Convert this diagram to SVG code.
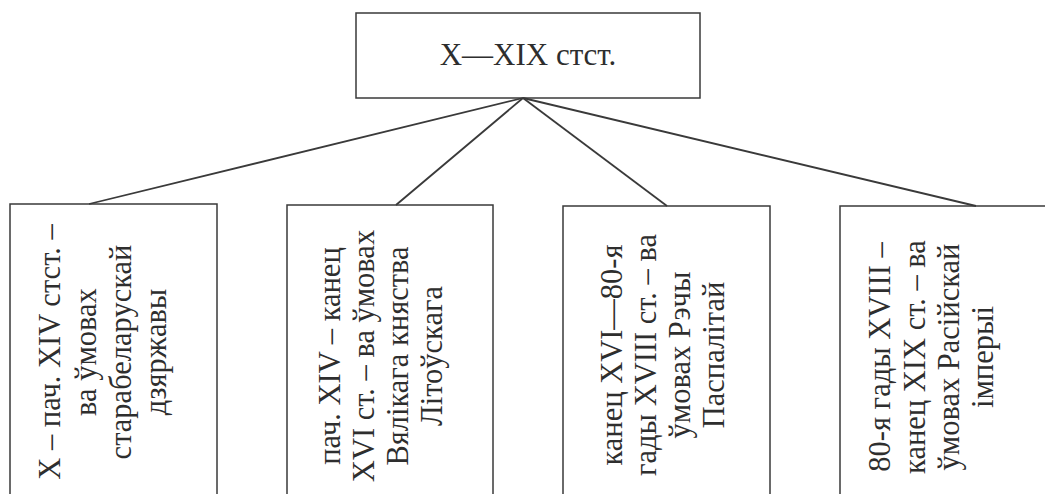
<svg xmlns="http://www.w3.org/2000/svg" width="1045" height="494" viewBox="0 0 1045 494">
<style>
.box{fill:none;stroke:#3a3a3a;stroke-width:1.5}
.edge{fill:none;stroke:#3a3a3a;stroke-width:1.8}
text{font-family:"Liberation Serif","Times New Roman",serif;fill:#2e2e2e;text-anchor:middle}
.t{font-size:31px}
.v{font-size:30.5px}
</style>
<rect width="1045" height="494" fill="#ffffff"/>
<g id="connectors">
<line class="edge" x1="523" y1="98" x2="89" y2="204"/>
<line class="edge" x1="523" y1="98" x2="396" y2="205"/>
<line class="edge" x1="523" y1="98" x2="667" y2="206"/>
<line class="edge" x1="523" y1="98" x2="976" y2="206"/>
</g>
<g id="root">
<rect class="box" x="356" y="13" width="344" height="85"/>
<text class="t" x="528" y="65">X—XIX стст.</text>
</g>
<g id="n1">
<rect class="box" x="10" y="204" width="207" height="300"/>
<g transform="translate(0,352) rotate(-90)">
<text class="v" x="0" y="60">X – пач. XIV стст. –</text>
<text class="v" x="0" y="96">ва ўмовах</text>
<text class="v" x="0" y="131">старабеларускай</text>
<text class="v" x="0" y="166">дзяржавы</text>
</g>
</g>
<g id="n2">
<rect class="box" x="287" y="205" width="206" height="300"/>
<g transform="translate(0,356) rotate(-90)">
<text class="v" x="0" y="340">пач. XIV – канец</text>
<text class="v" x="0" y="374">XVI ст. – ва ўмовах</text>
<text class="v" x="0" y="408">Вялікага княства</text>
<text class="v" x="0" y="442">Літоўскага</text>
</g>
</g>
<g id="n3">
<rect class="box" x="563" y="206" width="207" height="300"/>
<g transform="translate(0,355) rotate(-90)">
<text class="v" x="0" y="622">канец XVI—80-я</text>
<text class="v" x="0" y="656">гады XVIII ст. – ва</text>
<text class="v" x="0" y="690">ўмовах Рэчы</text>
<text class="v" x="0" y="724">Паспалітай</text>
</g>
</g>
<g id="n4">
<rect class="box" x="840" y="206" width="215" height="300"/>
<g transform="translate(0,357) rotate(-90)">
<text class="v" x="0" y="890">80-я гады XVIII –</text>
<text class="v" x="0" y="925">канец XIX ст. – ва</text>
<text class="v" x="0" y="959">ўмовах Расійскай</text>
<text class="v" x="0" y="993">імперыі</text>
</g>
</g>
</svg>
